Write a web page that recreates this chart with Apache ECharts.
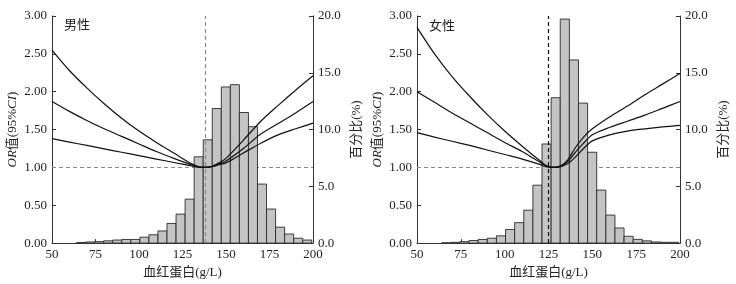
<!DOCTYPE html>
<html>
<head>
<meta charset="utf-8">
<script src="https://cdn.jsdelivr.net/npm/echarts@6/dist/echarts.min.js"></script>
<style>
  html, body { margin: 0; padding: 0; background: #fff; }
  #chart { width: 736px; height: 284px; }
</style>
</head>
<body>
<div id="chart"></div>
<script>
// histogram bins (g/L), shared by both panels
const binWidth = 5.2;
const binMid = [66.7, 71.9, 77.1, 82.3, 87.5, 92.7, 97.9, 103.1, 108.3, 113.5, 118.7, 123.9, 129.1,
                134.3, 139.5, 144.7, 149.9, 155.1, 160.3, 165.5, 170.7, 175.9, 181.1, 186.3, 191.5, 196.7];
// percent per bin
const maleHist = [0.05, 0.1, 0.13, 0.2, 0.27, 0.32, 0.32, 0.52, 0.73, 1.07, 1.73, 2.55, 3.87,
                  7.6, 9.1, 11.85, 13.75, 13.95, 11.5, 10.25, 5.2, 3.0, 1.4, 0.8, 0.43, 0.27];
const femaleHist = [0.03, 0.07, 0.13, 0.23, 0.32, 0.43, 0.64, 1.2, 1.8, 2.9, 5.1, 8.73, 12.8,
                    19.73, 16.13, 12.33, 8.0, 4.67, 2.47, 1.33, 0.6, 0.33, 0.2, 0.1, 0.07, 0.07];

// OR curves (with 95% CI)
const maleX = [50, 60, 70, 80, 90, 100, 110, 120, 130, 134, 138, 142, 146, 150, 160, 170, 180, 190, 200];
const maleUpper = [2.55, 2.28, 2.05, 1.84, 1.65, 1.48, 1.33, 1.19, 1.05, 1.01, 1.0, 1.015, 1.06, 1.12, 1.36, 1.61, 1.82, 2.02, 2.21];
const maleOR = [1.87, 1.74, 1.62, 1.51, 1.41, 1.31, 1.21, 1.12, 1.035, 1.008, 1.0, 1.012, 1.045, 1.085, 1.25, 1.44, 1.58, 1.72, 1.87];
const maleLower = [1.38, 1.335, 1.29, 1.245, 1.2, 1.155, 1.11, 1.065, 1.02, 1.004, 1.0, 1.01, 1.035, 1.06, 1.19, 1.32, 1.43, 1.51, 1.585];

const femaleX = [50, 60, 70, 80, 90, 100, 110, 120, 124, 128, 132, 136, 140, 145, 150, 160, 170, 180, 190, 200];
const femaleUpper = [2.85, 2.50, 2.20, 1.94, 1.70, 1.48, 1.28, 1.09, 1.02, 1.0, 1.02, 1.10, 1.25, 1.40, 1.51, 1.67, 1.81, 1.96, 2.10, 2.24];
const femaleOR = [2.00, 1.86, 1.72, 1.59, 1.46, 1.33, 1.21, 1.07, 1.015, 1.0, 1.015, 1.08, 1.19, 1.32, 1.43, 1.53, 1.61, 1.69, 1.78, 1.87];
const femaleLower = [1.46, 1.40, 1.345, 1.29, 1.23, 1.17, 1.11, 1.04, 1.005, 1.0, 1.01, 1.05, 1.13, 1.25, 1.35, 1.43, 1.48, 1.51, 1.535, 1.555];

// reference lines
const maleCut = 138;
const femaleCut = 125;
const refOR = 1;

const panelTitles = ['男性', '女性'];

const serif = '"Liberation Serif", "Noto Sans CJK SC", serif';
const textColor = '#222';
const axisColor = '#333';

let myChart = echarts.init(document.getElementById('chart'));

function pairs(xs, ys) {
    return xs.map((x, i) => [x, ys[i]]);
}

function xAxisFor(gi) {
    return {
        type: 'value',
        gridIndex: gi,
        min: 50,
        max: 200,
        interval: 25,
        axisLine: { show: true, lineStyle: { color: axisColor } },
        axisTick: { show: true, inside: true, length: 4, lineStyle: { color: axisColor } },
        axisLabel: { color: textColor, fontFamily: serif, fontSize: 13, margin: 5 },
        splitLine: { show: false },
        name: '血红蛋白(g/L)',
        nameLocation: 'middle',
        nameGap: 22,
        nameTextStyle: { color: textColor, fontFamily: serif, fontSize: 13 }
    };
}

function yLeftFor(gi) {
    return {
        type: 'value',
        gridIndex: gi,
        position: 'left',
        min: 0,
        max: 3,
        interval: 0.5,
        axisLine: { show: true, lineStyle: { color: axisColor } },
        axisTick: { show: true, inside: true, length: 4, lineStyle: { color: axisColor } },
        axisLabel: { color: textColor, fontFamily: serif, fontSize: 13, margin: 5,
                     formatter: v => v.toFixed(2) },
        splitLine: { show: false },
        name: '{i|OR}值(95%{i|CI})',
        nameLocation: 'middle',
        nameRotate: 90,
        nameGap: 33,
        nameTextStyle: {
            color: textColor, fontFamily: serif, fontSize: 13,
            rich: { i: { fontStyle: 'italic', fontFamily: serif, fontSize: 13, color: textColor } }
        }
    };
}

function yRightFor(gi) {
    return {
        type: 'value',
        gridIndex: gi,
        position: 'right',
        min: 0,
        max: 20,
        interval: 5,
        axisLine: { show: true, lineStyle: { color: axisColor } },
        axisTick: { show: true, inside: true, length: 4, lineStyle: { color: axisColor } },
        axisLabel: { color: textColor, fontFamily: serif, fontSize: 13, margin: 5,
                     formatter: v => v.toFixed(1) },
        splitLine: { show: false },
        name: '百分比(%)',
        nameLocation: 'middle',
        nameRotate: 90,
        nameGap: 37,
        nameTextStyle: { color: textColor, fontFamily: serif, fontSize: 13 }
    };
}

function histSeries(gi, values) {
    return {
        type: 'custom',
        xAxisIndex: gi,
        yAxisIndex: gi * 2 + 1,
        z: 3,
        data: binMid.map((m, i) => [m, values[i]]),
        renderItem: function (params, api) {
            let mid = api.value(0);
            let top = api.coord([mid - binWidth / 2, api.value(1)]);
            let bottom = api.coord([mid + binWidth / 2, 0]);
            return {
                type: 'rect',
                shape: { x: top[0], y: top[1], width: bottom[0] - top[0], height: bottom[1] - top[1] },
                style: { fill: '#c4c4c4', stroke: '#2a2a2a', lineWidth: 0.9 }
            };
        }
    };
}

function curveSeries(gi, xs, ys) {
    return {
        type: 'line',
        xAxisIndex: gi,
        yAxisIndex: gi * 2,
        z: 4,
        data: pairs(xs, ys),
        smooth: 0.3,
        showSymbol: false,
        symbol: 'none',
        silent: true,
        lineStyle: { color: '#111', width: 1.2 }
    };
}

function refSeries(gi, cut, cutColor) {
    return [
        {
            type: 'line',
            xAxisIndex: gi,
            yAxisIndex: gi * 2,
            z: 1,
            data: [],
            markLine: {
                silent: true,
                symbol: 'none',
                z: 1,
                label: { show: false },
                lineStyle: { type: [4, 3], color: '#8a8a8a', width: 1.2 },
                data: [{ yAxis: refOR }]
            }
        },
        {
            type: 'line',
            xAxisIndex: gi,
            yAxisIndex: gi * 2,
            z: 6,
            data: [],
            markLine: {
                silent: true,
                symbol: 'none',
                z: 6,
                label: { show: false },
                lineStyle: { type: [4, 3], color: cutColor, width: 1.2 },
                data: [{ xAxis: cut }]
            }
        }
    ];
}

let option = {
    animation: false,
    backgroundColor: '#fff',
    title: [
        { text: panelTitles[0], left: 59, top: 14,
          textStyle: { color: textColor, fontFamily: serif, fontSize: 13, fontWeight: 'normal' } },
        { text: panelTitles[1], left: 424, top: 15,
          textStyle: { color: textColor, fontFamily: serif, fontSize: 13, fontWeight: 'normal' } }
    ],
    grid: [
        { left: 52, top: 16, width: 261, height: 230 },
        { left: 417, top: 16, width: 263, height: 230 }
    ],
    xAxis: [xAxisFor(0), xAxisFor(1)],
    yAxis: [yLeftFor(0), yRightFor(0), yLeftFor(1), yRightFor(1)],
    series: [
        histSeries(0, maleHist),
        curveSeries(0, maleX, maleUpper),
        curveSeries(0, maleX, maleOR),
        curveSeries(0, maleX, maleLower),
        ...refSeries(0, maleCut, '#8a8a8a'),
        histSeries(1, femaleHist),
        curveSeries(1, femaleX, femaleUpper),
        curveSeries(1, femaleX, femaleOR),
        curveSeries(1, femaleX, femaleLower),
        ...refSeries(1, femaleCut, '#111')
    ]
};
myChart.setOption(option);

window.addEventListener('resize', () => {
    myChart.resize()
})
</script>
</body>
</html>
